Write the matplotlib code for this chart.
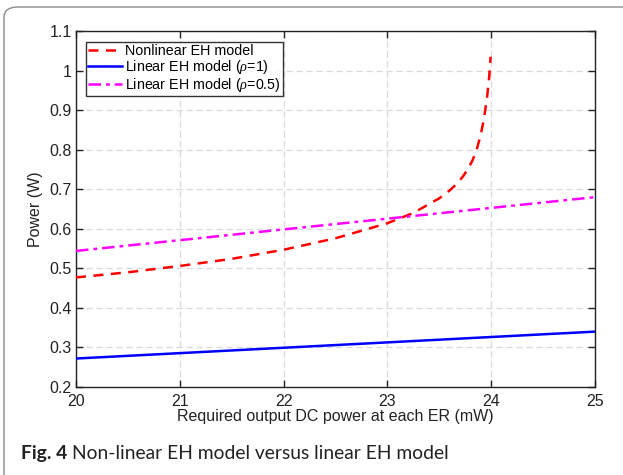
import matplotlib
matplotlib.use("Agg")
import matplotlib.pyplot as plt
from matplotlib.patches import FancyBboxPatch

plt.rcParams["mathtext.fontset"] = "custom"
plt.rcParams["mathtext.it"] = "Liberation Serif:italic"
plt.rcParams["mathtext.rm"] = "Liberation Sans"

# Data
x_lin = [20, 25]
linear_rho1 = [0.272, 0.340]
linear_rho05 = [0.544, 0.680]
x_nl = [20, 20.5, 21, 21.5, 22, 22.5, 23, 23.25, 23.5, 23.6, 23.67, 23.73, 23.78, 23.82, 23.86, 23.9, 23.93, 23.96, 23.98, 23.995]
nonlinear = [0.477, 0.490, 0.506, 0.524, 0.547, 0.576, 0.614, 0.640, 0.677, 0.697, 0.714, 0.733, 0.753, 0.773, 0.800, 0.838, 0.878, 0.932, 0.982, 1.035]

xticks = [20, 21, 22, 23, 24, 25]
yticks = [0.2, 0.3, 0.4, 0.5, 0.6, 0.7, 0.8, 0.9, 1.0, 1.1]
ytick_labels = ["0.2", "0.3", "0.4", "0.5", "0.6", "0.7", "0.8", "0.9", "1", "1.1"]

W, H = 623, 475
fig = plt.figure(figsize=(W / 100, H / 100), dpi=100)
fig.patch.set_facecolor("white")

# Outer rounded frame
frame = FancyBboxPatch((4 / W, -0.2), 1.2, 1 - 7 / H + 0.2,
                       boxstyle="round,pad=0,rounding_size=0.022",
                       transform=fig.transFigure, facecolor="none",
                       edgecolor="#8a8a8a", linewidth=1.0, zorder=0)
fig.patches.append(frame)

ax = fig.add_axes([76 / W, 1 - 387 / H, (595 - 76) / W, (387 - 31) / H])
font = "Liberation Sans"
fs = 11.5

ax.plot(x_nl, nonlinear, color="red", linestyle=(0, (4, 3)), linewidth=1.8,
        label="Nonlinear EH model", zorder=3)
ax.plot(x_lin, linear_rho1, color="blue", linestyle="-", linewidth=1.8,
        label=r"Linear EH model ($\it{\rho}$=1)", zorder=3)
ax.plot(x_lin, linear_rho05, color="magenta", linestyle=(0, (5, 2, 1.5, 2)), linewidth=1.8,
        label=r"Linear EH model ($\it{\rho}$=0.5)", zorder=3)

ax.set_xlim(20, 25)
ax.set_ylim(0.2, 1.1)
ax.set_xticks(xticks)
ax.set_yticks(yticks)
ax.set_yticklabels(ytick_labels)
ax.grid(True, color="#d9d9d9", linestyle=(0, (5, 3)), linewidth=0.9)
ax.tick_params(direction="in", top=True, right=True, length=5, width=1.0,
               labelsize=fs, colors="#222222")
ax.tick_params(axis="x", pad=5)
ax.tick_params(axis="y", pad=3)
for lab in ax.get_xticklabels() + ax.get_yticklabels():
    lab.set_fontfamily(font)
for s in ax.spines.values():
    s.set_color("#222222")
    s.set_linewidth(1.0)

ax.set_xlabel("Required output DC power at each ER (mW)", fontsize=fs, family=font,
              labelpad=0, color="#222222")
ax.set_ylabel("Power (W)", fontsize=fs, family=font, labelpad=5, color="#222222")

leg = ax.legend(loc="upper left", bbox_to_anchor=(10 / 519, 1 - 11 / 356),
                prop={"family": font, "size": 10.3},
                frameon=True, fancybox=False, edgecolor="black", borderpad=0.15,
                handlelength=2.4, handletextpad=0.2, labelspacing=0.0, borderaxespad=0)
leg.get_frame().set_linewidth(1.0)

# Caption: bold "Fig. 4" followed by regular text, fitted to span x 21..451 px
cap_font = "Lato"
x_left, x_right, y_base = 21, 451, 459


def draw_caption(size):
    t1 = fig.text(x_left / W, 1 - y_base / H, "Fig. 4", fontsize=size, fontweight="bold",
                  va="baseline", ha="left", family=cap_font, color="#222222")
    fig.canvas.draw()
    r = fig.canvas.get_renderer()
    bb = t1.get_window_extent(renderer=r)
    t2 = fig.text((bb.x1 + 0.25 * size * 100 / 72) / W, 1 - y_base / H,
                  "Non-linear EH model versus linear EH model",
                  fontsize=size, va="baseline", ha="left", family=cap_font, color="#222222")
    fig.canvas.draw()
    return t1, t2, t2.get_window_extent(renderer=r).x1


size = 14.0
t1, t2, right = draw_caption(size)
size *= (x_right - x_left) / (right - x_left)
t1.remove()
t2.remove()
draw_caption(size)

fig.savefig("out.png", dpi=100)
